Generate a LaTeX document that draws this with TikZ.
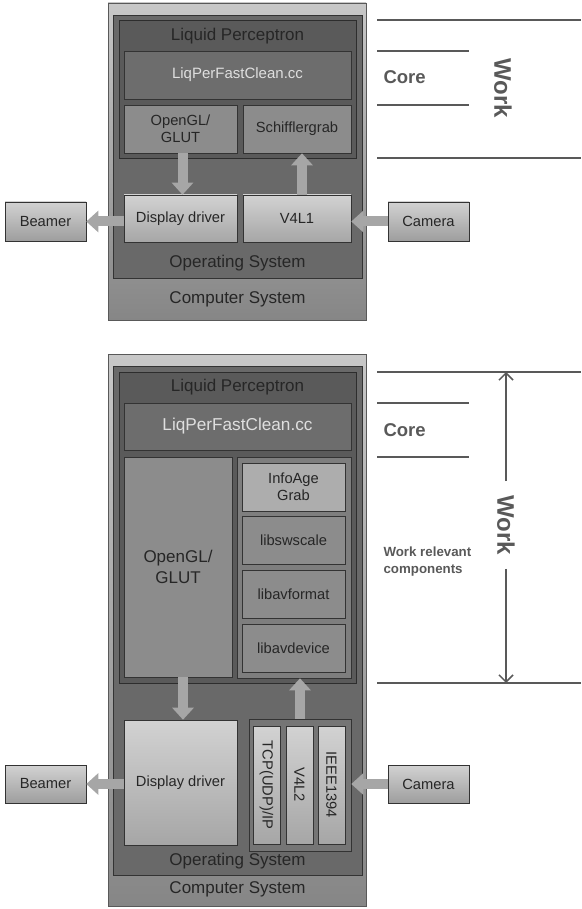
\documentclass[tikz,border=0pt]{standalone}
\usepackage{fontspec}
\setmainfont{Liberation Sans}
\usetikzlibrary{positioning,arrows.meta}

\definecolor{inkgray}{HTML}{262626}
\definecolor{rulegray}{HTML}{595959}
\definecolor{osgray}{HTML}{696969}
\definecolor{lpgray}{HTML}{5A5A5A}
\definecolor{coregray}{HTML}{6D6D6D}
\definecolor{midgray}{HTML}{8C8C8C}
\definecolor{libgray}{HTML}{7E7E7E}
\definecolor{grabgray}{HTML}{ADADAD}
\definecolor{arrowgray}{HTML}{A6A6A6}
\definecolor{comptop}{HTML}{C8C8C8}
\definecolor{compbot}{HTML}{868686}
\definecolor{lighttop}{HTML}{D2D2D2}
\definecolor{lightbot}{HTML}{A6A6A6}

\begin{document}
\begin{tikzpicture}[x=1pt, y=-1pt,
    computer/.style={rectangle, draw=rulegray, top color=comptop, bottom color=compbot,
                     inner sep=0pt, line width=0.8pt},
    opsys/.style={rectangle, draw=gray!40!black, fill=osgray, inner sep=0pt, line width=0.8pt},
    liquid/.style={rectangle, draw=gray!35!black, fill=lpgray, inner sep=0pt, line width=0.8pt},
    core/.style={rectangle, draw=gray!40!black, fill=coregray, inner sep=0pt,
                 text=gray!25, font={\fontsize{15}{17}\selectfont}, line width=0.6pt},
    module/.style={rectangle, draw=gray!40!black, fill=midgray, inner sep=2pt, align=center,
                   text=inkgray, font={\fontsize{14.7}{17}\selectfont}, line width=0.6pt},
    driver/.style={rectangle, draw=gray!40!black, top color=lighttop, bottom color=lightbot,
                   inner sep=2pt, align=center, text=inkgray,
                   font={\fontsize{14.7}{17}\selectfont}, line width=0.6pt},
    device/.style={rectangle, draw=gray!40!black, top color=lighttop, bottom color=lightbot!95!black,
                   inner sep=2pt, text=inkgray, font={\fontsize{14.7}{17}\selectfont},
                   minimum width=81pt, minimum height=39pt, line width=0.6pt},
    title/.style={text=inkgray, font={\fontsize{17}{19}\selectfont}},
    side/.style={text=rulegray, font={\bfseries\fontsize{18.5}{20}\selectfont}, anchor=west},
    worklabel/.style={text=rulegray, font={\bfseries\fontsize{24}{26}\selectfont}, rotate=-90},
    blockarrow/.style={draw=arrowgray, line width=10pt,
                       -{Triangle[width=21pt, length=12pt]}},
    sep/.style={draw=rulegray, line width=1.5pt},
    span/.style={draw=rulegray, line width=1.5pt, -{Straight Barb[width=14pt, length=7pt]}}
]
    \useasboundingbox (0,0) rectangle (581,909);

    % Upper diagram: V4L1 setup
    \node[computer, minimum width=258pt, minimum height=317pt] (comp1) at (237,161.5) {};
    \node[opsys, minimum width=249pt, minimum height=263pt] (os1) at (237.5,146.5) {};
    \node[liquid, minimum width=237pt, minimum height=138pt] (lp1) at (237.5,89) {};
    \node[title] (lptitle1) at (237.5,36) {Liquid Perceptron};
    \node[core, minimum width=227pt, minimum height=48pt] (liq1) at (237.5,75) {LiqPerFastClean.cc};
    \node[module, minimum width=113pt, minimum height=48pt] (ogl1) at (180.5,129) {OpenGL/\\GLUT};
    \node[module, minimum width=108pt, minimum height=48pt] (schiff) at (297,129) {Schifflergrab};
    \node[driver, minimum width=113pt, minimum height=47pt] (disp1) at (180.5,218.5) {Display driver};
    \node[driver, minimum width=108pt, minimum height=47pt] (v4l1) at (297,218.5) {V4L1};
    \node[title] (ostitle1) at (237.5,263) {Operating System};
    \node[title] (cstitle1) at (237.5,299) {Computer System};
    \node[device] (beamer1) at (45.5,221.5) {Beamer};
    \node[device] (camera1) at (428.5,221.5) {Camera};

    \draw[blockarrow] ([xshift=2pt]ogl1.south) -- ([xshift=2pt]disp1.north);
    \draw[blockarrow] ([xshift=5pt]v4l1.north) -- ([xshift=5pt]schiff.south);
    \draw[blockarrow] (beamer1.east -| disp1.west) -- (beamer1.east);
    \draw[blockarrow] (camera1.west) -- (camera1.west -| v4l1.east);

    % Upper scale
    \draw[sep] (377,20) -- (581,20);
    \draw[sep] (377,51) -- (469,51);
    \draw[sep] (377,105) -- (469,105);
    \draw[sep] (377,158) -- (581,158);
    \node[side] (core1) at (380,77) {Core};
    \node[worklabel] (work1) at (503,88) {Work};

    % Lower diagram: libav and V4L2 setup
    \node[computer, minimum width=258pt, minimum height=552pt] (comp2) at (237,630) {};
    \node[opsys, minimum width=249pt, minimum height=509pt] (os2) at (237.5,620.5) {};
    \node[liquid, minimum width=237pt, minimum height=311pt] (lp2) at (237.5,527.5) {};
    \node[title] (lptitle2) at (237.5,387) {Liquid Perceptron};
    \node[core, minimum width=227pt, minimum height=47pt, font={\fontsize{17.2}{19}\selectfont}]
        (liq2) at (237.5,426.5) {LiqPerFastClean.cc};
    \node[module, minimum width=108pt, minimum height=220pt, font={\fontsize{17}{21}\selectfont}]
        (ogl2) at (178,567) {OpenGL/\\GLUT};
    \node[module, fill=libgray, minimum width=114pt, minimum height=221pt] (libs) at (294,567.5) {};
    \node[module, fill=grabgray, minimum width=103pt, minimum height=48pt] (infoage) at (293.5,487) {InfoAge\\Grab};
    \node[module, minimum width=103pt, minimum height=48pt, below=5pt of infoage] (swscale) {libswscale};
    \node[module, minimum width=103pt, minimum height=48pt, below=5pt of swscale] (avformat) {libavformat};
    \node[module, minimum width=103pt, minimum height=48pt, below=5pt of avformat] (avdevice) {libavdevice};
    \node[driver, minimum width=113pt, minimum height=125pt] (disp2) at (180.5,782.5) {Display driver};
    \node[module, fill=osgray!92!white, minimum width=102pt, minimum height=132pt] (drivers) at (300,785) {};
    \node[driver, rotate=-90, minimum width=118pt, minimum height=27pt, inner sep=0pt] (tcp) at (266.5,785) {TCP(UDP)/IP};
    \node[driver, rotate=-90, minimum width=118pt, minimum height=27pt, inner sep=0pt] (v4l2) at (299.5,785) {V4L2};
    \node[driver, rotate=-90, minimum width=118pt, minimum height=27pt, inner sep=0pt] (ieee) at (331.5,785) {IEEE1394};
    \node[title] (ostitle2) at (237.5,861) {Operating System};
    \node[title] (cstitle2) at (237.5,889) {Computer System};
    \node[device, minimum height=38pt] (beamer2) at (45.5,784) {Beamer};
    \node[device, minimum height=38pt] (camera2) at (428.5,784) {Camera};

    \draw[blockarrow] ([xshift=5pt]ogl2.south) -- ([xshift=5pt]ogl2.south |- disp2.north);
    \draw[blockarrow] (drivers.north) -- (libs.south -| drivers.north);
    \draw[blockarrow] (beamer2.east -| disp2.west) -- (beamer2.east);
    \draw[blockarrow] (camera2.west) -- (camera2.west -| drivers.east);

    % Lower scale
    \draw[sep] (377,372) -- (581,372);
    \draw[sep] (377,403) -- (469,403);
    \draw[sep] (377,457) -- (469,457);
    \draw[sep] (377,683) -- (581,683);
    \node[side] (core2) at (380,430) {Core};
    \node[side, align=left, font={\bfseries\fontsize{13.3}{17}\selectfont}] (relevant) at (380,562)
        {Work relevant\\components};
    \node[worklabel, inner xsep=14pt] (work2) at (506,525) {Work};
    \coordinate (worktop) at (506,372);
    \coordinate (workbot) at (506,683);
    \draw[span] (work2.west) -- (worktop);
    \draw[span] (work2.east) -- (workbot);
\end{tikzpicture}
\end{document}
